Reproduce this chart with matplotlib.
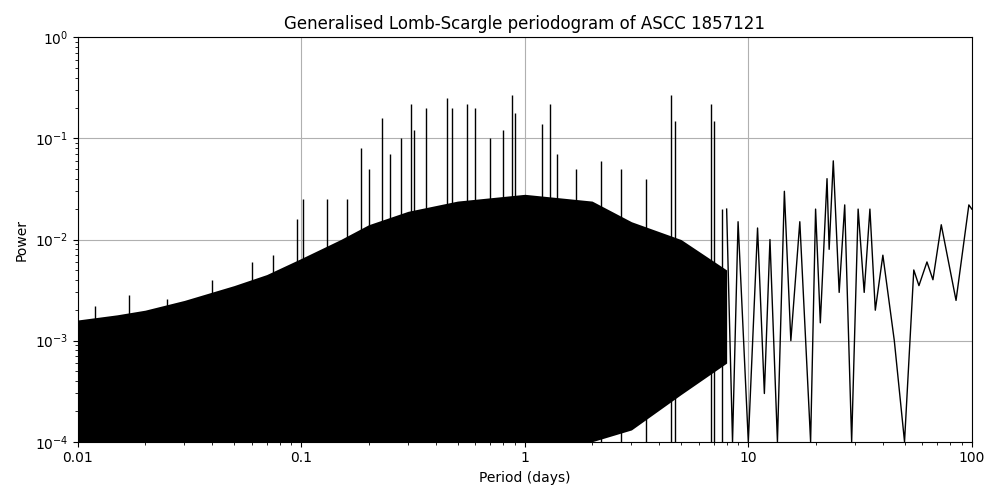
import numpy as np
import matplotlib
matplotlib.use('Agg')
import matplotlib.pyplot as plt

# upper envelope of the dense noise region (period in days, power)
env_period = [0.01, 0.015, 0.02, 0.03, 0.05, 0.07, 0.1, 0.15, 0.2, 0.3, 0.5, 1.0, 2.0, 3.0, 5.0, 8.0]
env_power = [1.6e-3, 1.8e-3, 2.0e-3, 2.5e-3, 3.5e-3, 4.5e-3, 6.5e-3, 1.0e-2, 1.4e-2, 1.9e-2, 2.4e-2, 2.8e-2, 2.4e-2, 1.5e-2, 1.0e-2, 5e-3]
# lower edge where the black mass starts to thin out
low_period = [0.01, 2.5, 4.0, 6.0, 8.0]
low_power = [1e-4, 1e-4, 2e-4, 4e-4, 6e-4]

# tall individual peaks
peak_period = [0.012, 0.017, 0.025, 0.04, 0.06, 0.075, 0.096, 0.102, 0.13, 0.16, 0.185, 0.2, 0.23, 0.25,
               0.28, 0.31, 0.32, 0.36, 0.45, 0.47, 0.55, 0.6, 0.7, 0.8, 0.88, 0.9, 1.2, 1.3, 1.4,
               1.7, 2.2, 2.7, 3.5, 4.5, 4.7, 6.8, 7.0, 7.6]
peak_power = [2.2e-3, 2.8e-3, 2.6e-3, 4e-3, 6e-3, 7e-3, 1.6e-2, 2.5e-2, 2.5e-2, 2.5e-2, 8e-2, 5e-2, 0.16, 7e-2,
              0.1, 0.22, 0.12, 0.2, 0.25, 0.2, 0.22, 0.2, 0.1, 0.12, 0.27, 0.18, 0.14, 0.22, 7e-2,
              5e-2, 6e-2, 5e-2, 4e-2, 0.27, 0.15, 0.22, 0.15, 2e-2]

# resolved long-period part of the periodogram
long_period = [8.0, 8.5, 9.0, 10.0, 11.0, 11.8, 12.5, 13.5, 14.5, 15.5, 17.0, 19.0, 20.0, 21.0, 22.5, 23.0,
               24.0, 25.5, 27.0, 29.0, 31.0, 33.0, 35.0, 37.0, 40.0, 45.0, 50.0, 55.0, 58.0, 63.0,
               67.0, 73.0, 85.0, 97.0, 100.0]
long_power = [2e-2, 1e-4, 1.5e-2, 1e-4, 1.3e-2, 3e-4, 1e-2, 1e-4, 3e-2, 1e-3, 1.5e-2, 1e-4, 2e-2, 1.5e-3, 4e-2, 8e-3,
              6e-2, 3e-3, 2.2e-2, 1e-4, 2e-2, 3e-3, 2e-2, 2e-3, 7e-3, 1e-3, 1e-4, 5e-3, 3.5e-3, 6e-3,
              4e-3, 1.4e-2, 2.5e-3, 2.2e-2, 2e-2]

fig, ax = plt.subplots(figsize=(10, 5))
ax.grid(True, which='major', zorder=0)
ax.set_axisbelow(True)
lower = np.exp(np.interp(np.log(env_period), np.log(low_period), np.log(low_power)))
ax.fill_between(env_period, lower, env_power, color='black', lw=0, zorder=2)
ax.vlines(peak_period, 1e-4, peak_power, color='black', lw=1, zorder=2)
ax.plot(long_period, long_power, color='black', lw=1, zorder=2)

ax.set_xscale('log')
ax.set_yscale('log')
ax.set_xlim(0.01, 100)
ax.set_ylim(1e-4, 1)
ax.set_xticks([0.01, 0.1, 1, 10, 100])
ax.set_xticklabels(['0.01', '0.1', '1', '10', '100'])
ax.set_xlabel('Period (days)')
ax.set_ylabel('Power')
ax.set_title('Generalised Lomb-Scargle periodogram of ASCC 1857121')
plt.tight_layout()
plt.savefig('out.png', dpi=100)
